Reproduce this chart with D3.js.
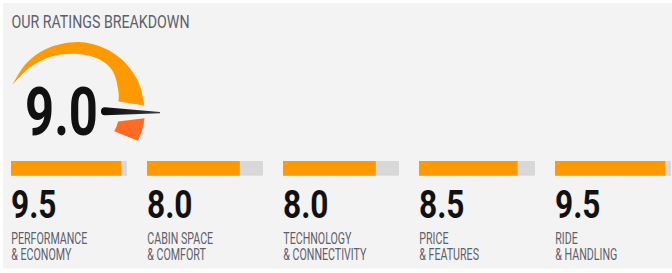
<!DOCTYPE html>
<html>
<head>
<meta charset="utf-8">
<script src="https://cdn.jsdelivr.net/npm/d3@7"></script>
<style>
  html, body { margin: 0; padding: 0; background: #fff; }
  svg { display: block; }
  text { font-family: Roboto, 'Liberation Sans', sans-serif; }
</style>
</head>
<body>
<svg id="chart" width="672" height="273"></svg>
<script>
// rating data
const overallScore = 9.0;
const maxScore = 10;
const categoryTop = ['PERFORMANCE', 'CABIN SPACE', 'TECHNOLOGY', 'PRICE', 'RIDE'];
const categoryBottom = ['& ECONOMY', '& COMFORT', '& CONNECTIVITY', '& FEATURES', '& HANDLING'];
const scores = [9.5, 8.0, 8.0, 8.5, 9.5];

const ORANGE = '#ff9900';
const RED = '#ff6b22';
const TRACK = '#d8d8d8';
const INK = '#111111';
const SLATE = '#5d606c';

const svg = d3.select('#chart');
const width = +svg.attr('width');

// panel background
svg.append('rect')
  .attr('x', 3).attr('y', 3)
  .attr('width', width - 3).attr('height', 265.5)
  .attr('fill', '#f3f3f3');

// the reference uses a condensed face; squeeze a normal one to the same proportions.
// k is worked out once per text style from a sample string and its wanted width
function squeezeFactor(size, weight, sample, wanted) {
  const t = svg.append('text')
    .style('font-size', size + 'px').style('font-weight', weight)
    .text(sample);
  const w = t.node().getComputedTextLength();
  t.remove();
  return wanted / w;
}
function condense(sel, k) {
  sel.each(function () {
    const w = this.getComputedTextLength();
    d3.select(this).attr('textLength', w * k).attr('lengthAdjust', 'spacingAndGlyphs');
  });
}

const kTitle = squeezeFactor(18.7, 400, 'OUR RATINGS BREAKDOWN', 178);
const kBig = squeezeFactor(67.5, 700, '9.0', 73);
const kScore = squeezeFactor(39.4, 700, '9.5', 45.5);
const kLabel = squeezeFactor(17.3, 400, 'PERFORMANCE', 76);

svg.append('text')
  .attr('x', 11.5).attr('y', 28.3)
  .attr('fill', SLATE)
  .style('font-size', '18.7px')
  .text('OUR RATINGS BREAKDOWN')
  .call(condense, kTitle);

// ---- gauge ----
const deg = Math.PI / 180;
const G = { cx: 76, cy: 110.5, r: 68.5 };
// screen angle in degrees, clockwise from 3 o'clock
const gaugeAngle = d3.scaleLinear().domain([0, maxScore]).range([-158, 19.2]);
const needleA = gaugeAngle(overallScore);

const gauge = svg.append('g').attr('transform', `translate(${G.cx},${G.cy})`);

// crescent: thickness grows from the left tip towards the needle
const crescent = [
  { a0: gaugeAngle(0), a1: gaugeAngle(0), r0: G.r },
  { a0: -137, a1: -137, r0: 63 },
  { a0: -116, a1: -116, r0: 59.5 },
  { a0: -88, a1: -88, r0: 56.5 },
  { a0: -65, a1: -65, r0: 56.3 },
  { a0: -50, a1: -50, r0: 54.5 },
  { a0: -40, a1: -40, r0: 51.5 },
  { a0: -30, a1: -30, r0: 48 },
  { a0: -20, a1: -20, r0: 45.5 },
  { a0: needleA - 13.5, a1: needleA - 5.7, r0: 43.5 }
];

const area = d3.areaRadial()
  .startAngle(d => (d.a0 + 90) * deg)
  .endAngle(d => (d.a1 + 90) * deg)
  .innerRadius(d => d.r0)
  .outerRadius(G.r)
  .curve(d3.curveCatmullRom);

gauge.append('path')
  .attr('d', area(crescent))
  .attr('fill', ORANGE);

// remaining part after the needle
const rp = d3.path();
const oa0 = (needleA + 5) * deg, oa1 = (gaugeAngle(maxScore) + 6.9) * deg;
const ia0 = (needleA + 13) * deg, ia1 = (gaugeAngle(maxScore) + 9.3) * deg;
rp.moveTo(69 * Math.cos(oa0), 69 * Math.sin(oa0));
rp.arc(0, 0, 69, oa0, oa1, false);
rp.lineTo(43.5 * Math.cos(ia1), 43.5 * Math.sin(ia1));
rp.arc(0, 0, 43.5, ia1, ia0, true);
rp.closePath();
gauge.append('path').attr('d', rp.toString()).attr('fill', RED);

// needle
const defs = svg.append('defs');
const grad = defs.append('linearGradient').attr('id', 'needleGrad')
  .attr('x1', '0%').attr('x2', '100%').attr('y1', '0%').attr('y2', '0%');
grad.append('stop').attr('offset', '0%').attr('stop-color', '#0a0a0a');
grad.append('stop').attr('offset', '100%').attr('stop-color', '#3a3a3a');

gauge.append('path')
  .attr('transform', `rotate(${needleA})`)
  .attr('d', 'M29,-4 L84,-0.7 L84,0.7 L29,4 A4,4 0 0,1 29,-4 Z')
  .attr('fill', 'url(#needleGrad)');

svg.append('text')
  .attr('x', 25).attr('y', 135)
  .attr('fill', INK)
  .style('font-size', '67.5px')
  .style('font-weight', 700)
  .text(overallScore.toFixed(1))
  .call(condense, kBig);

// ---- category bars ----
const x = d3.scaleBand()
  .domain(d3.range(scores.length))
  .range([11, 671])
  .paddingInner(20 / 136)
  .paddingOuter(0);

const fill = d3.scaleLinear().domain([0, maxScore]).range([0, x.bandwidth()]);

const col = svg.selectAll('g.cat')
  .data(scores)
  .enter()
  .append('g')
  .attr('class', 'cat')
  .attr('transform', (d, i) => `translate(${x(i)},0)`);

col.append('rect')
  .attr('y', 161).attr('height', 14.7)
  .attr('width', x.bandwidth())
  .attr('fill', TRACK);

col.append('rect')
  .attr('y', 161).attr('height', 14.7)
  .attr('width', d => fill(d))
  .attr('fill', ORANGE);

col.append('text')
  .attr('x', 0).attr('y', 218.3)
  .attr('fill', INK)
  .style('font-size', '39.4px')
  .style('font-weight', 700)
  .text(d => d.toFixed(1))
  .call(condense, kScore);

// two-line label in one text element
const label = col.append('text')
  .attr('fill', SLATE)
  .style('font-size', '17.3px');

label.append('tspan')
  .attr('x', 0.3).attr('y', 244)
  .text((d, i) => categoryTop[i])
  .call(condense, kLabel);

label.append('tspan')
  .attr('x', 0.3).attr('y', 260.3)
  .text((d, i) => categoryBottom[i])
  .call(condense, kLabel);
</script>
</body>
</html>
